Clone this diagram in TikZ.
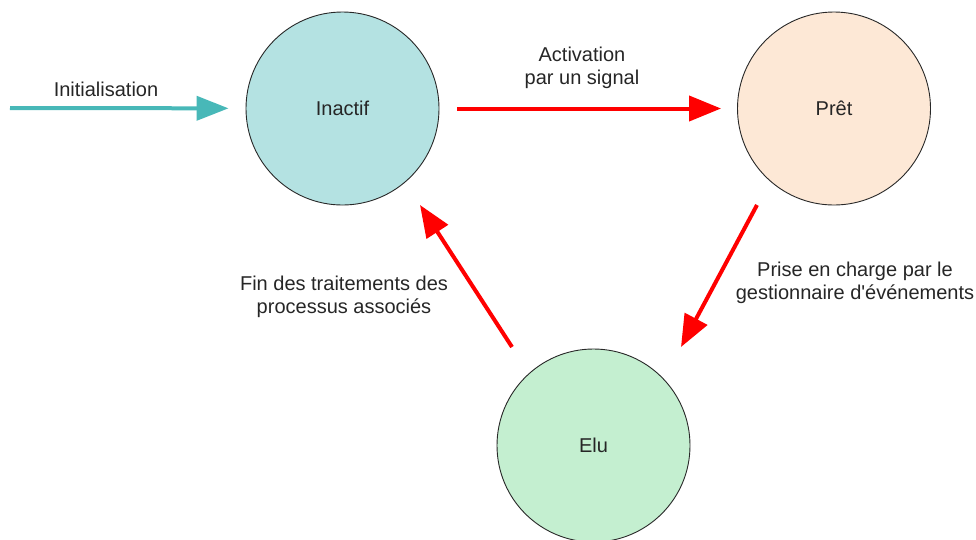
\documentclass[tikz,border=0pt]{standalone}
\usepackage{fontspec}
\newfontfamily\lsans{Liberation Sans}
\usetikzlibrary{arrows.meta,calc}
\definecolor{inactifc}{RGB}{180,226,226}
\definecolor{pretc}{RGB}{253,232,214}
\definecolor{eluc}{RGB}{196,239,208}
\definecolor{tealc}{RGB}{72,184,184}
\definecolor{outl}{RGB}{40,40,40}
\tikzset{
  state/.style={circle,draw=outl,line width=0.9pt,minimum size=193pt,inner sep=0pt,font=\lsans\fontsize{20pt}{23pt}\selectfont,text=black!85},
  lbl/.style={align=center,font=\lsans\fontsize{20pt}{23pt}\selectfont,text=black!85},
  redarrow/.style={draw=red,line width=4pt,-{Triangle[length=32pt,width=25pt]}},
  tealarrow/.style={draw=tealc,line width=4pt,-{Triangle[length=32pt,width=24pt]}}
}
\begin{document}
\begin{tikzpicture}[x=1pt,y=-1pt]
\useasboundingbox (0,0) rectangle (976,539);
\begin{scope}
\clip (0,0) rectangle (976,539);
\node[state,fill=inactifc] (inactif) at (342.5,108.5) {Inactif};
\node[state,fill=pretc] (pret) at (834,108.5) {Prêt};
\node[state,fill=eluc] (elu) at (593.5,445.5) {Elu};
\end{scope}
\coordinate (init) at (10,108);
\draw[tealarrow,shorten >=17pt] (init) -- (inactif);
\draw[redarrow,shorten <=18pt,shorten >=16pt] (inactif) -- (pret);
\draw[redarrow] ($(pret.center)+(-77,96.5)$) -- ($(elu.center)+(87.5,-98.5)$);
\draw[redarrow] ($(elu.center)+(-81.5,-98.5)$) -- ($(inactif.center)+(77.5,96.5)$);
\node[lbl] (linit) at (106,89) {Initialisation};
\node[lbl] (lact) at (582,67.5) {Activation\\par un signal};
\node[lbl] (lprise) at (855,282.5) {Prise en charge par le\\gestionnaire d'événements};
\node[lbl] (lfin) at (344,296.5) {Fin des traitements des\\processus associés};
\end{tikzpicture}
\end{document}
